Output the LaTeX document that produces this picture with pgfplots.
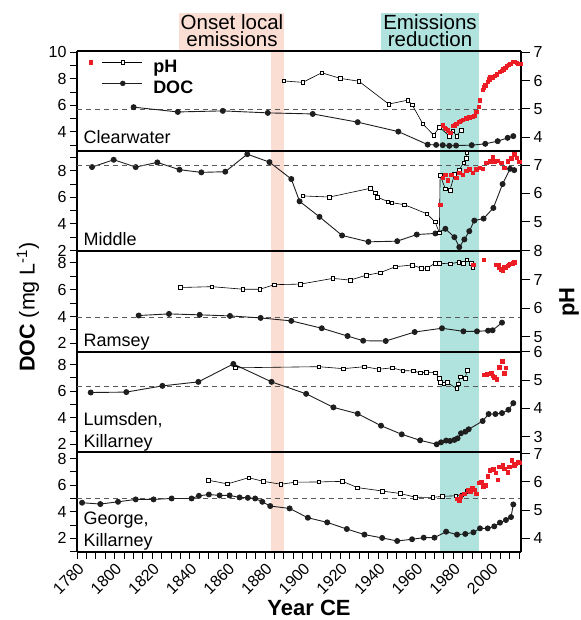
\documentclass[border=0pt]{standalone}
\usepackage{pgfplots}
\pgfplotsset{compat=1.18}
\usepackage{fontspec}
\setmainfont{Liberation Sans}
\definecolor{pinkc}{RGB}{250,221,211}
\definecolor{tealc}{RGB}{176,226,222}
\definecolor{redc}{RGB}{235,28,36}
\definecolor{docc}{RGB}{30,30,30}
\definecolor{dashc}{RGB}{90,90,90}
\pgfplotsset{
  panel/.style={scale only axis, width=444pt, xmin=1780, xmax=2016,
    /pgf/number format/assume math mode=true, /pgf/number format/1000 sep={},
    tick label style={font=\fontsize{16}{16}\selectfont}},
  docax/.style={panel, separate axis lines,
    every outer x axis line/.append style={line width=2pt, black},
    every outer y axis line/.append style={line width=2pt, black},
    axis line style={line width=2pt, black}, tick align=outside,
    ytick={2,4,6,8,10}, minor ytick={1,2,...,10}, ytick pos=left,
    major tick length=7pt, minor tick length=7pt,
    every tick/.style={line width=1pt, black},
    xtick=\empty},
  phax/.style={panel, axis x line=none, axis y line*=right, tick align=outside,
    axis line style={line width=2pt, black},
    ytick={2,3,...,8}, major tick length=9pt, every tick/.style={line width=1pt, black}},
  docline/.style={line width=0.9pt, docc, mark=*, mark size=2.5pt, mark options={fill=docc, draw=docc}},
  phline/.style={line width=0.6pt, black, mark=square*, mark size=1.8pt, mark options={fill=white, draw=black, line width=0.5pt}},
  phred/.style={only marks, mark=square*, mark size=1.7pt, color=redc},
  dashl/.style={dashc, line width=0.8pt, dash pattern=on 5pt off 4pt, mark=none},
}
\newcommand{\lakefont}{\fontsize{18}{18}\selectfont}
\begin{document}
\begin{tikzpicture}
\useasboundingbox (0,0) rectangle (580pt,620pt);
% background stripes and labels
\begin{axis}[at={(77pt,68pt)}, anchor=south west, scale only axis, width=444pt, height=501pt,
  xmin=1780, xmax=2016, ymin=0, ymax=1, hide axis, clip=false]
  \fill[pinkc] (axis cs:1883,0) rectangle (axis cs:1890,1);
  \fill[pinkc] (axis cs:1834,1) rectangle (axis cs:1890,1.0764);
  \fill[tealc] (axis cs:1973,0) rectangle (axis cs:1993.7,1);
  \fill[tealc] (axis cs:1941.7,1) rectangle (axis cs:1993.7,1.0764);
\end{axis}
\node[font=\fontsize{20.5}{20}\selectfont] at (232pt,598.3pt) {Onset local};
\node[font=\fontsize{20.5}{20}\selectfont] at (232pt,580.7pt) {emissions};
\node[font=\fontsize{20.5}{20}\selectfont] at (430pt,598.3pt) {Emissions};
\node[font=\fontsize{20.5}{20}\selectfont] at (430pt,580.7pt) {reduction};

% ===== Panel 1: Clearwater =====
\begin{axis}[docax, at={(77pt,469pt)}, anchor=south west, height=100pt, ymin=2.57, ymax=10.1]
  \addplot[dashl] coordinates {(1780,5.73) (2016,5.73)};
  \addplot[docline] coordinates {(1810.1,5.87) (1833.6,5.51) (1857.5,5.59) (1881.4,5.44) (1905.3,5.36) (1929.2,4.74) (1950.8,4.03) (1966.4,3.05) (1970.9,3.03) (1974.4,3.01) (1977.9,2.96) (1981.5,2.98) (1989.8,3.01) (1997.0,3.11) (2003.6,3.31) (2008.9,3.56) (2011.9,3.69)};
  \node[anchor=base west, font=\lakefont] at (rel axis cs:0,0) [xshift=3pt, yshift=7pt] {Clearwater};
\end{axis}
\begin{axis}[phax, at={(77pt,469pt)}, anchor=south west, height=100pt, ymin=3.51, ymax=7.05, ytick={4,5,6,7},
  legend style={at={(rel axis cs:0,1)}, anchor=north west, draw=none, fill=none, inner sep=0pt,
    xshift=11.4pt, yshift=-8.5pt, row sep=4pt, column sep=11pt,
    font=\bfseries\fontsize{18}{18}\selectfont,
    nodes={inner sep=0pt, text height=13pt, text depth=4pt}},
  legend cell align=left]
  \addplot[phline, forget plot] coordinates {(1889.8,5.99) (1900.0,5.94) (1910.1,6.28) (1919.9,6.08) (1929.8,5.98) (1945.7,5.17) (1955.8,5.31) (1958.1,5.15) (1963.8,4.47) (1969.6,4.07) (1972.6,4.35) (1977.9,4.04) (1979.7,4.22) (1981.8,4.04) (1984.1,4.25)};
  \addplot[phred, forget plot] coordinates {(1974.4,4.43) (1975.3,4.34) (1976.1,4.30) (1977.0,4.25) (1978.3,4.16) (1979.7,4.40) (1980.6,4.43) (1981.5,4.47) (1983.2,4.55) (1984.1,4.58) (1985.0,4.61) (1986.8,4.67) (1987.6,4.69) (1988.5,4.70) (1989.4,4.72) (1990.3,4.72) (1991.2,4.75) (1992.1,4.90) (1993.5,5.08) (1994.2,5.31) (1995.6,5.69) (1996.3,5.77) (1997.0,5.84) (1998.3,5.96) (1999.0,6.05) (1999.5,6.12) (2000.9,6.12) (2002.0,6.18) (2003.0,6.23) (2004.8,6.31) (2005.7,6.35) (2006.6,6.40) (2007.5,6.45) (2008.4,6.52) (2009.3,6.56) (2010.2,6.61) (2011.9,6.67) (2012.8,6.68) (2013.7,6.63) (2014.6,6.60) (2015.5,6.59)};
  \addlegendimage{legend image code/.code={%
    \fill[redc] (-13pt,4.3pt) rectangle (-9.6pt,7.7pt);
    \draw[line width=0.8pt] (0pt,6pt) -- (40pt,6pt);
    \draw[line width=0.5pt, fill=white] (19.1pt,4.1pt) rectangle (22.9pt,7.9pt);}}
  \addlegendentry{pH}
  \addlegendimage{legend image code/.code={%
    \draw[line width=0.9pt, docc] (0pt,6pt) -- (40pt,6pt);
    \fill[docc] (21pt,6pt) circle (2.5pt);}}
  \addlegendentry{DOC}
\end{axis}

% ===== Panel 2: Middle =====
\begin{axis}[docax, at={(77pt,369pt)}, anchor=south west, height=100pt, ymin=1.96, ymax=9.49]
  \addplot[docline] coordinates {(1788.0,8.28) (1799.5,8.83) (1811.2,8.28) (1822.7,8.63) (1834.5,8.08) (1846.1,7.88) (1858.8,7.93) (1870.5,9.25) (1882.3,8.65) (1893.9,7.38) (1898.3,5.70) (1908.9,4.53) (1920.9,3.13) (1934.9,2.65) (1950.2,2.70) (1960.6,3.20) (1970.5,3.28) (1975.8,3.63) (1980.6,3.00) (1983.2,2.25) (1985.9,2.83) (1988.5,3.45) (1991.2,4.25) (1996.1,4.40) (2001.3,5.20) (2006.2,7.00) (2010.2,8.15) (2012.4,8.05)};
  \node[anchor=base west, font=\lakefont] at (rel axis cs:0,0) [xshift=3pt, yshift=5.4pt] {Middle};
\end{axis}
\begin{axis}[phax, at={(77pt,369pt)}, anchor=south west, height=100pt, ymin=3.96, ymax=7.5, ytick={5,6,7}]
  \addplot[dashl] coordinates {(1780,7) (2016,7)};
  \addplot[phline] coordinates {(1900.0,5.91) (1914.2,5.87) (1936.0,6.18) (1938.6,6.02) (1939.5,5.87) (1945.2,5.71) (1947.3,5.67) (1954.0,5.60) (1965.9,5.28) (1970.3,4.99) (1972.6,4.61) (1973.0,6.64) (1975.8,6.16) (1978.3,6.12) (1980.6,6.67) (1983.2,6.84) (1985.5,7.08) (1986.8,7.24) (1987.1,7.44) (1987.3,7.62)};
  \addplot[phred] coordinates {(1973.1,5.59) (1974.4,6.55) (1975.8,6.67) (1977.0,6.46) (1978.8,6.67) (1981.5,6.55) (1983.2,6.73) (1985.0,6.67) (1986.8,6.81) (1988.5,6.85) (1990.3,6.73) (1992.1,6.85) (1993.9,6.91) (1995.6,6.88) (1997.4,7.08) (1999.2,7.14) (2000.9,7.28) (2001.8,7.14) (2003.6,7.16) (2005.4,7.08) (2007.1,6.91) (2008.9,7.14) (2010.7,7.24) (2012.4,7.38) (2013.7,7.26) (2015.1,7.12)};
\end{axis}

% ===== Panel 3: Ramsey =====
\begin{axis}[docax, at={(77pt,268pt)}, anchor=south west, height=101pt, ymin=1.36, ymax=8.89]
  \addplot[dashl] coordinates {(1780,3.96) (2016,3.96)};
  \addplot[docline] coordinates {(1812.8,4.08) (1828.9,4.20) (1845.2,4.13) (1861.3,4.05) (1877.6,3.90) (1893.9,3.68) (1910.1,3.13) (1923.8,2.55) (1932.1,2.20) (1944.1,2.18) (1959.5,2.85) (1974.0,3.13) (1985.4,2.90) (1992.6,2.90) (1998.5,2.95) (2000.9,2.98) (2005.9,3.55)};
  \node[anchor=base west, font=\lakefont] at (rel axis cs:0,0) [xshift=3pt, yshift=5.6pt] {Ramsey};
\end{axis}
\begin{axis}[phax, at={(77pt,268pt)}, anchor=south west, height=101pt, ymin=4.46, ymax=8.0, ytick={5,6,7,8}]
  \addplot[phline] coordinates {(1834.9,6.72) (1851.7,6.75) (1868.2,6.66) (1877.2,6.66) (1885.0,6.82) (1898.8,6.84) (1916.0,7.04) (1925.2,6.98) (1933.7,7.15) (1941.1,7.24) (1949.3,7.45) (1958.1,7.51) (1962.9,7.40) (1966.1,7.40) (1970.3,7.57) (1972.6,7.57) (1978.3,7.55) (1982.9,7.61) (1985.4,7.58) (1987.1,7.69) (1989.4,7.58) (1990.3,7.42)};
  \addplot[phred] coordinates {(1990.5,7.51) (1996.1,7.70) (2002.7,7.52) (2004.1,7.42) (2005.4,7.36) (2006.2,7.33) (2007.7,7.42) (2008.9,7.48) (2010.2,7.55) (2011.6,7.57) (2012.4,7.61) (2004.1,7.52) (2006.9,7.45) (2009.5,7.52)};
\end{axis}

% ===== Panel 4: Lumsden =====
\begin{axis}[docax, at={(77pt,168pt)}, anchor=south west, height=100pt, ymin=1.42, ymax=8.95]
  \addplot[dashl] coordinates {(1780,6.35) (2016,6.35)};
  \addplot[docline] coordinates {(1787.3,5.90) (1806.2,5.93) (1825.4,6.40) (1844.5,6.70) (1863.1,8.05) (1883.4,6.70) (1901.8,5.80) (1916.3,4.78) (1929.2,4.30) (1941.6,3.40) (1952.6,2.75) (1962.4,2.30) (1971.2,2.00) (1973.5,2.15) (1976.2,2.28) (1978.3,2.25) (1980.6,2.33) (1982.3,2.45) (1984.1,2.83) (1986.4,2.95) (1988.2,3.13) (1995.6,3.75) (1998.8,4.28) (2002.4,4.28) (2005.9,4.35) (2009.3,4.60) (2011.9,5.10)};
  \node[anchor=base west, font=\lakefont] at (rel axis cs:0,0) [xshift=3pt, yshift=26pt] {Lumsden,};
  \node[anchor=base west, font=\lakefont] at (rel axis cs:0,0) [xshift=3pt, yshift=4.8pt] {Killarney};
\end{axis}
\begin{axis}[phax, at={(77pt,168pt)}, anchor=south west, height=100pt, ymin=2.46, ymax=6.0, ytick={3,4,5,6}]
  \addplot[phline] coordinates {(1864.0,5.44) (1908.5,5.48) (1921.6,5.41) (1932.8,5.48) (1940.4,5.39) (1947.5,5.44) (1953.1,5.34) (1958.8,5.33) (1962.5,5.26) (1965.6,5.29) (1970.5,5.27) (1972.6,5.06) (1973.2,4.92) (1974.9,4.87) (1976.7,4.92) (1981.8,4.71) (1982.7,4.88) (1983.6,5.12) (1986.3,5.06) (1987.3,5.35)};
  \addplot[phred] coordinates {(1996.5,5.20) (1997.7,5.21) (1999.2,5.23) (2000.1,5.25) (2000.9,5.17) (2001.8,5.11) (2003.0,5.04) (2004.5,5.46) (2005.9,5.67) (2007.1,5.25) (2008.0,5.44)};
\end{axis}

% ===== Panel 5: George =====
\begin{axis}[docax, at={(77pt,68pt)}, anchor=south west, height=100pt, ymin=0.97, ymax=8.5,
  xtick={1780,1800,...,2000}, minor xtick={1785,1790,...,2015}, xtick pos=bottom,
  xticklabel style={rotate=45, anchor=north east, inner sep=2pt}]
  \addplot[dashl] coordinates {(1780,5.0) (2016,5.0)};
  \addplot[docline] coordinates {(1782.7,4.68) (1792.4,4.58) (1801.8,4.75) (1811.2,4.93) (1820.7,4.93) (1830.3,5.00) (1840.9,5.00) (1844.8,5.20) (1850.1,5.30) (1855.8,5.23) (1861.1,5.23) (1866.4,5.08) (1870.8,5.05) (1874.7,5.00) (1878.5,4.75) (1882.7,4.43) (1893.0,4.25) (1902.7,3.55) (1913.0,3.20) (1923.4,2.70) (1932.8,2.28) (1942.2,2.03) (1950.2,1.80) (1958.1,1.93) (1964.3,2.05) (1970.0,2.05) (1976.2,2.50) (1982.0,2.28) (1986.4,2.33) (1990.7,2.45) (1994.2,2.75) (1998.3,2.75) (2001.8,2.90) (2004.8,3.18) (2008.0,3.38) (2010.7,3.60) (2011.9,4.55)};
  \node[anchor=base west, font=\lakefont] at (rel axis cs:0,0) [xshift=3pt, yshift=27pt] {George,};
  \node[anchor=base west, font=\lakefont] at (rel axis cs:0,0) [xshift=3pt, yshift=5pt] {Killarney};
\end{axis}
\begin{axis}[phax, at={(77pt,68pt)}, anchor=south west, height=100pt, ymin=3.52, ymax=7.06, ytick={4,5,6,7}]
  \addplot[phline] coordinates {(1849.9,6.06) (1860.0,5.93) (1871.2,6.15) (1879.0,6.02) (1888.4,5.92) (1896.0,5.99) (1908.4,6.00) (1921.1,6.02) (1929.1,5.80) (1942.1,5.68) (1951.8,5.59) (1959.8,5.46) (1969.0,5.45) (1974.0,5.49) (1981.4,5.51) (1984.5,5.55) (1987.1,5.67)};
  \addplot[phred] coordinates {(1981.8,5.41) (1983.2,5.35) (1984.1,5.49) (1985.9,5.59) (1987.7,5.71) (1988.9,5.65) (1990.0,5.80) (1991.2,5.73) (1992.1,5.59) (1993.5,5.97) (1994.8,6.00) (1996.0,5.85) (1997.0,5.88) (1998.3,6.20) (1999.2,6.41) (2001.3,6.45) (2002.4,6.32) (2003.6,6.08) (2004.5,6.53) (2006.2,6.59) (2007.1,6.47) (2008.9,6.35) (2009.8,6.53) (2011.2,6.77) (2012.4,6.59) (2013.3,6.65) (2014.6,6.70) (2015.3,6.68)};
\end{axis}

\node[rotate=90, font=\fontsize{21.5}{21}\selectfont] at (28pt,313pt) {\textbf{DOC} (mg L\textsuperscript{-1})};
\node[rotate=90, font=\bfseries\fontsize{22}{22}\selectfont] at (569pt,318pt) {pH};
\node[font=\bfseries\fontsize{22}{22}\selectfont] at (309pt,12.5pt) {Year CE};
\end{tikzpicture}
\end{document}
